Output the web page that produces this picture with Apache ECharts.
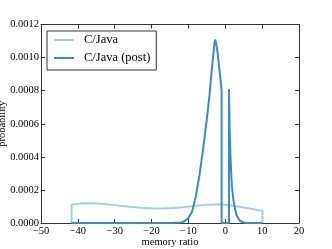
<!DOCTYPE html>
<html>
<head>
<meta charset="utf-8">
<script src="https://cdn.jsdelivr.net/npm/echarts@6/dist/echarts.min.js"></script>
<style>html,body{margin:0;padding:0;background:#fff;}#c{width:332px;height:249px;}</style>
</head>
<body>
<div id="c"></div>
<script>
// C/Java (light)
var javaX = [-41.7, -41.7, -40, -37.5, -35, -32, -29, -26, -23, -20, -17, -14, -11, -8, -5, -2, 0, 2, 5, 8, 10.1, 10.1];
var javaY = [0, 0.000111, 0.000116, 0.000119, 0.000118, 0.000113, 0.000105, 0.000098, 0.000092, 0.000089, 0.000088, 0.000091, 0.000097, 0.000104, 0.000110, 0.000113, 0.000110, 0.000104, 0.000094, 0.000082, 0.0000725, 0];
// C/Java (post)
var postX = [-41.7, -15, -12, -11, -10, -9, -8, -7, -6, -5, -4.3, -3.7, -3.2, -2.9, -2.7, -2.5, -2.2, -1.8, -1.4, -1, -1, 1, 1, 1.2, 1.5, 1.8, 2.2, 2.6, 3, 3.5, 4, 5, 6, 10.1];
var postY = [0, 0, 0.000003, 0.000012, 0.00003, 0.00007, 0.00016, 0.00029, 0.00045, 0.00063, 0.00077, 0.00092, 0.00103, 0.00109, 0.00111, 0.00110, 0.00105, 0.00097, 0.00089, 0.00080, 0, 0, 0.00081, 0.00055, 0.00035, 0.00022, 0.00014, 0.00009, 0.00005, 0.00003, 0.000012, 0.000003, 0, 0];
var seriesNames = ['C/Java', 'C/Java (post)'];
var xTicks = {min: -50, max: 20, step: 10};
var yTicks = {min: 0, max: 0.0012, step: 0.0002};

function pairs(xs, ys) { return xs.map(function (x, i) { return [x, ys[i]]; }); }

var font = 'Liberation Serif';
var axisLineStyle = {color: '#333', width: 1};
function fmtX(v) { return v < 0 ? '\u2212' + Math.abs(v) : String(v); }

var chart = echarts.init(document.getElementById('c'), null, {renderer: 'canvas'});
chart.setOption({
  animation: false,
  backgroundColor: '#fff',
  grid: {left: 41, right: 33, top: 24.5, bottom: 26, containLabel: false, outerBoundsMode: 'none'},
  legend: {
    orient: 'vertical', left: 47, top: 31,
    data: seriesNames,
    icon: 'rect', itemWidth: 20, itemHeight: 2,
    itemGap: 4,
    padding: [2, 6, 5, 7],
    borderColor: '#333', borderWidth: 1, backgroundColor: '#fff',
    textStyle: {fontFamily: font, fontSize: 12.5, color: '#000', lineHeight: 14, padding: [0, 0, 0, 5]}
  },
  xAxis: [{
    type: 'value', position: 'bottom', min: xTicks.min, max: xTicks.max, interval: xTicks.step,
    name: 'memory ratio', nameLocation: 'middle', nameGap: 14, nameMoveOverlap: false,
    nameTextStyle: {fontFamily: font, fontSize: 10.5, color: '#000'},
    axisLine: {show: true, onZero: false, lineStyle: axisLineStyle},
    axisTick: {show: true, inside: true, length: 4, lineStyle: axisLineStyle},
    axisLabel: {fontFamily: font, fontSize: 10.5, color: '#000', margin: 3, formatter: fmtX},
    splitLine: {show: false}
  }, {
    type: 'value', position: 'top', min: xTicks.min, max: xTicks.max, interval: xTicks.step,
    axisLine: {show: true, onZero: false, lineStyle: axisLineStyle},
    axisTick: {show: true, inside: true, length: 4, lineStyle: axisLineStyle},
    axisLabel: {show: false}, splitLine: {show: false}
  }],
  yAxis: [{
    type: 'value', position: 'left', min: yTicks.min, max: yTicks.max, interval: yTicks.step,
    name: 'probability', nameLocation: 'middle', nameGap: 33, nameMoveOverlap: false,
    nameTextStyle: {fontFamily: font, fontSize: 10.5, color: '#000'},
    axisLine: {show: true, onZero: false, lineStyle: axisLineStyle},
    axisTick: {show: true, inside: true, length: 4, lineStyle: axisLineStyle},
    axisLabel: {fontFamily: font, fontSize: 10.5, color: '#000', margin: 2, formatter: function (v) { return v.toFixed(4); }},
    splitLine: {show: false}
  }, {
    type: 'value', position: 'right', min: yTicks.min, max: yTicks.max, interval: yTicks.step,
    axisLine: {show: true, onZero: false, lineStyle: axisLineStyle},
    axisTick: {show: true, inside: true, length: 4, lineStyle: axisLineStyle},
    axisLabel: {show: false}, splitLine: {show: false}
  }],
  series: [{
    name: seriesNames[0], type: 'line', xAxisIndex: 0, yAxisIndex: 0,
    data: pairs(javaX, javaY), showSymbol: false, symbol: 'none', clip: false,
    lineStyle: {color: '#a6cee3', width: 2}, itemStyle: {color: '#a6cee3'}, z: 2
  }, {
    name: seriesNames[1], type: 'line', xAxisIndex: 0, yAxisIndex: 0,
    data: pairs(postX, postY), showSymbol: false, symbol: 'none', clip: false,
    lineStyle: {color: '#3d8bc2', width: 2}, itemStyle: {color: '#3d8bc2'}, z: 3
  }]
});
</script>
</body>
</html>
